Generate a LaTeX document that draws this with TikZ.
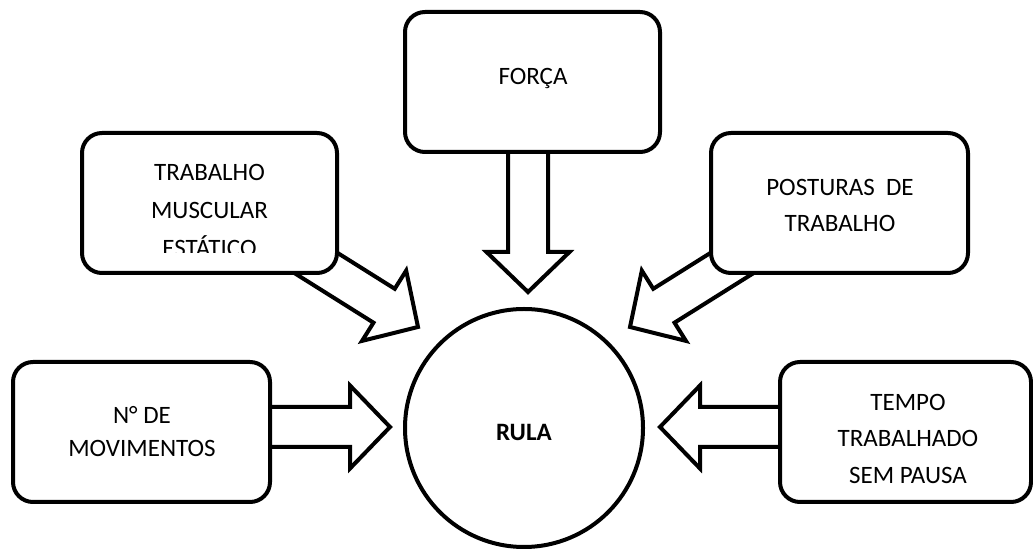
\documentclass[tikz,border=0pt]{standalone}
\usepackage{fontspec}
\setmainfont{Carlito}
\newcommand\blockarr[3]{%
  \begin{scope}[shift={(#1)}, rotate=#2]
    \draw[blockarrow] (0,0) -- (-40,41.5) -- (-40,20) -- (-#3,20) -- (-#3,-20) -- (-40,-20) -- (-40,-41.5) -- cycle;
  \end{scope}}
\begin{document}
\begin{tikzpicture}[x=1pt,y=1pt,
  box/.style={draw, line width=4pt, rounded corners=20pt, fill=white, inner sep=0pt, minimum height=140pt},
  lbl/.style={align=center, inner sep=0pt},
  blockarrow/.style={draw, line width=4pt, fill=white, line join=miter, miter limit=10},
]
\useasboundingbox (0,0) rectangle (1033,551);

% arrow tips
\coordinate (tipF) at (528,259);
\coordinate (tipUL) at (418,224);
\coordinate (tipUR) at (630,224);
\coordinate (tipL) at (390,124);
\coordinate (tipR) at (660,124);

% block arrows
\blockarr{tipF}{-90}{180}
\blockarr{tipUL}{-32.1}{150}
\blockarr{tipUR}{-147.9}{150}
\blockarr{tipL}{0}{150}
\blockarr{tipR}{180}{150}

% boxes
\node[box, minimum width=255pt] (forca) at (532.5,469) {};
\node[box, minimum width=255pt] (tme) at (209.5,348) {};
\node[box, minimum width=257pt] (post) at (839.5,348) {};
\node[box, minimum width=257pt] (nmov) at (141.5,119) {};
\node[box, minimum width=251pt] (tempo) at (905.5,119) {};
\node[draw, line width=4pt, circle, minimum size=238pt, inner sep=0pt, fill=white] (rula) at (524,123) {};

% texts
\node[lbl, font=\fontsize{25}{37}\selectfont] (tforca) at (533,473) {FORÇA};
\begin{scope}
  \clip (82,298) rectangle (337,420);
  \node[lbl, font=\fontsize{25}{38}\selectfont] (ttme) at (209.5,341) {TRABALHO\\MUSCULAR\\ESTÁTICO};
\end{scope}
\node[lbl, font=\fontsize{25}{36}\selectfont] (tpost) at (840,346) {POSTURAS\ \ DE\\TRABALHO};
\node[lbl, font=\fontsize{25}{33}\selectfont] (tnmov) at (142,119) {N° DE\\MOVIMENTOS};
\node[lbl, font=\fontsize{25}{36.5}\selectfont] (ttempo) at (908,112.5) {TEMPO\\TRABALHADO\\SEM PAUSA};
\node[lbl, font=\fontsize{25}{30}\selectfont\bfseries] (trula) at (rula.center) [yshift=-4pt] {RULA};
\end{tikzpicture}
\end{document}
